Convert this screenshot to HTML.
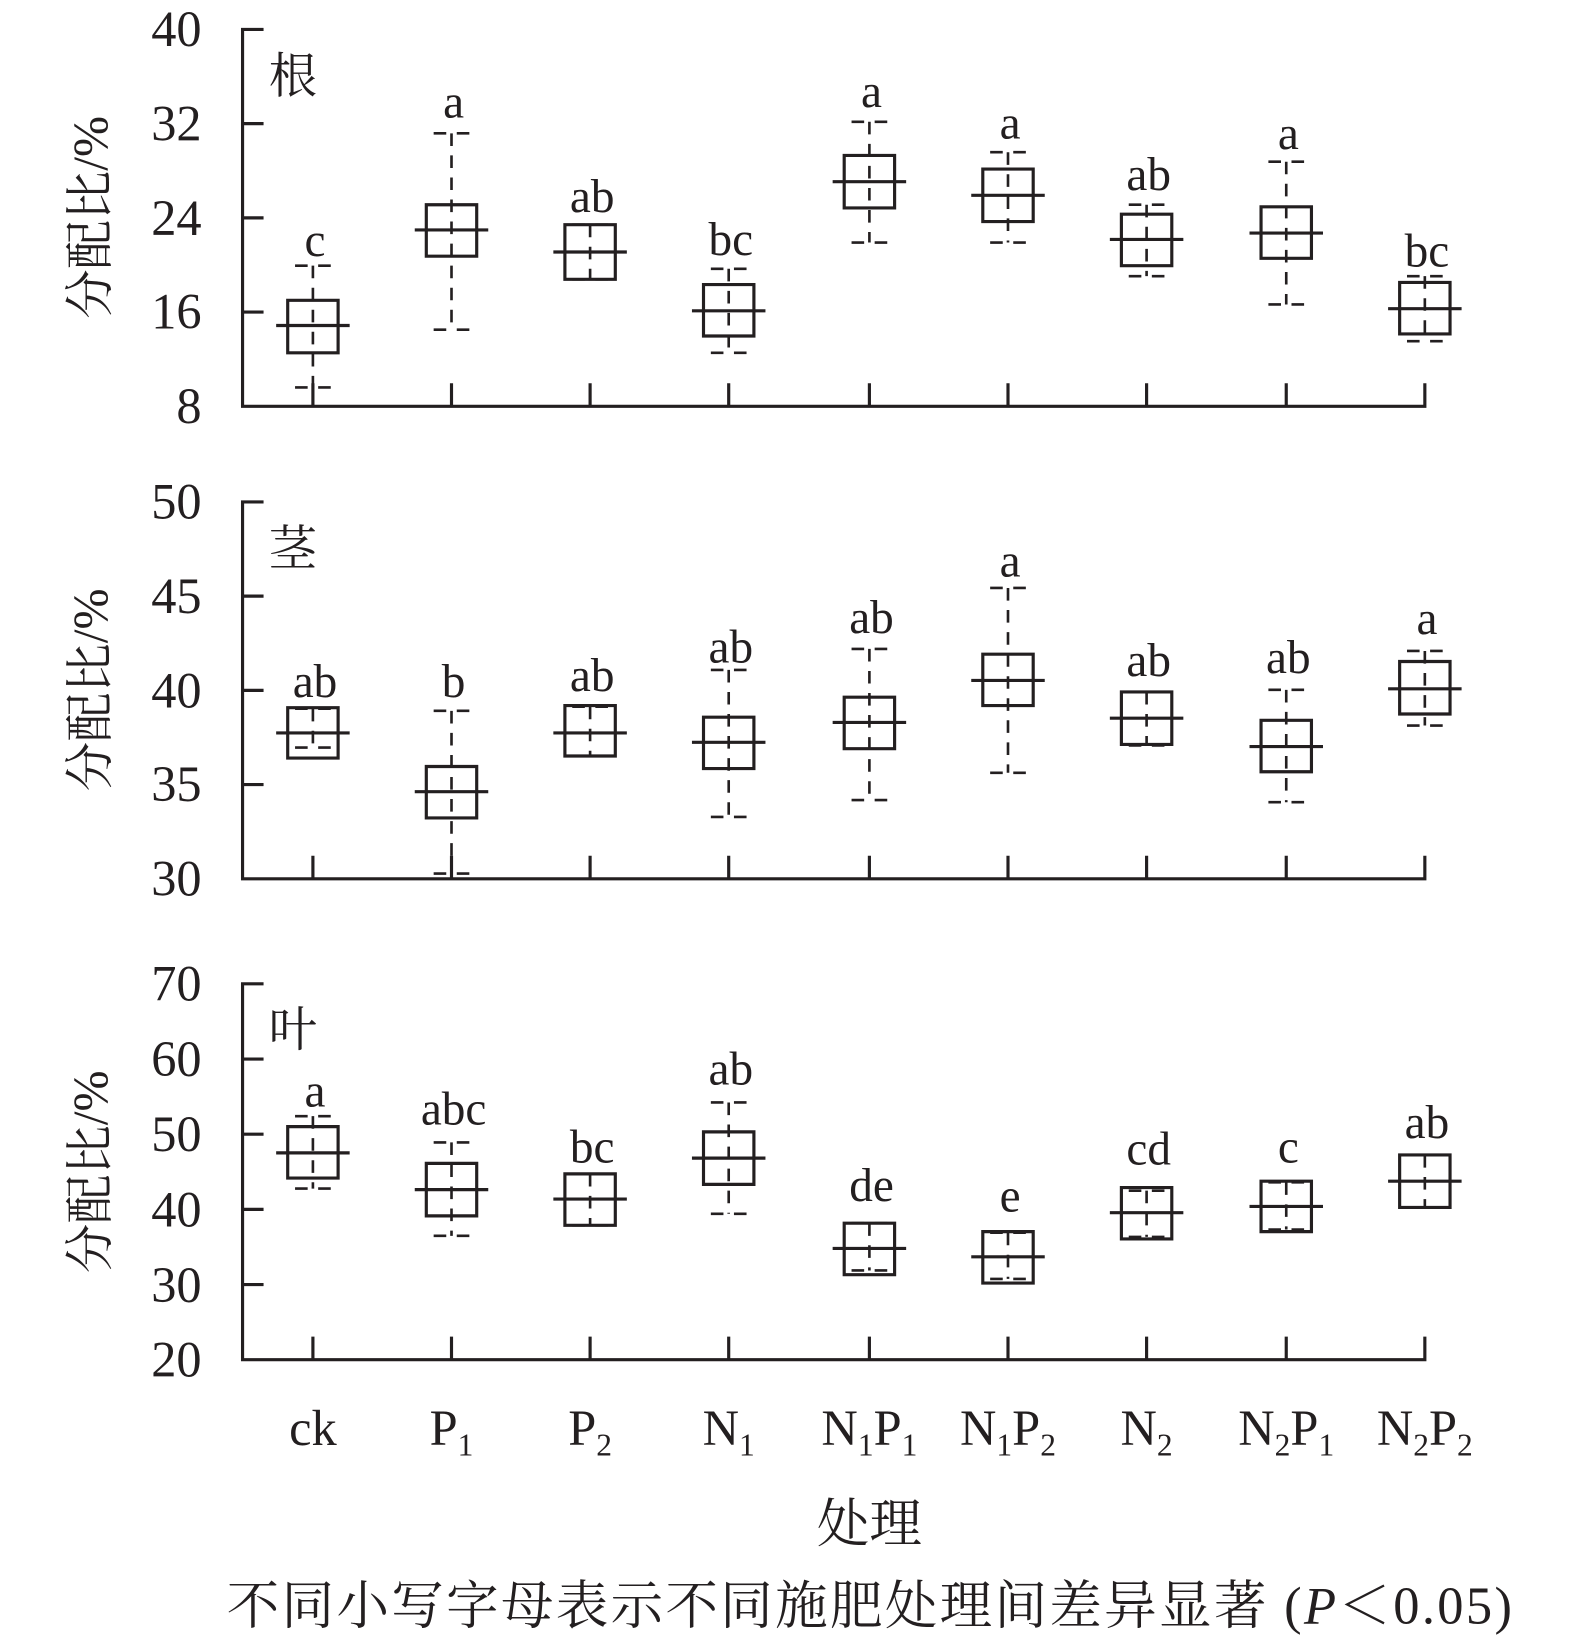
<!DOCTYPE html>
<html><head><meta charset="utf-8"><style>
html,body{margin:0;padding:0;background:#fff;}
svg{display:block;}
text{font-family:"Liberation Serif","Noto Serif CJK SC",serif;fill:#231f20;stroke:none;}
.a{stroke:#231f20;stroke-width:3;fill:none;}
.w{stroke:#231f20;stroke-width:2.5;stroke-dasharray:12,9;fill:none;}
.c{stroke:#231f20;stroke-width:2.5;stroke-dasharray:12,10;fill:none;}
.t{font-size:48px;text-anchor:end;}
.l{font-size:45px;text-anchor:middle;}
.y{font-size:47px;text-anchor:middle;}
.x{font-size:48px;text-anchor:middle;}
.s{font-size:30px;}
</style></head><body>
<svg width="1575" height="1651" viewBox="0 0 1500 1572.4" xmlns="http://www.w3.org/2000/svg">
<!-- Panel 1 -->
<path class="a" d="M251 28H231V387H1357V365"/>
<path class="a" d="M231 117.75h20M231 207.5h20M231 297.25h20M298 387v-22M430 387v-22M562 387v-22M694 387v-22M828 387v-22M960 387v-22M1092 387v-22M1225 387v-22"/>
<text class="t" x="192" y="44">40</text><text class="t" x="192" y="134">32</text><text class="t" x="192" y="224">24</text><text class="t" x="192" y="313">16</text><text class="t" x="192" y="403">8</text>
<text x="256" y="88" font-size="46">根</text>
<text class="y" transform="translate(102,207) rotate(-90)">分配比/%</text>
<!-- Panel 2 -->
<path class="a" d="M251 478H231V837H1357V815"/>
<path class="a" d="M231 567.75h20M231 657.5h20M231 747.25h20M298 837v-22M430 837v-22M562 837v-22M694 837v-22M828 837v-22M960 837v-22M1092 837v-22M1225 837v-22"/>
<text class="t" x="192" y="494">50</text><text class="t" x="192" y="584">45</text><text class="t" x="192" y="674">40</text><text class="t" x="192" y="763">35</text><text class="t" x="192" y="853">30</text>
<text x="256" y="538" font-size="46">茎</text>
<text class="y" transform="translate(102,657) rotate(-90)">分配比/%</text>
<!-- Panel 3 -->
<path class="a" d="M251 937H231V1295H1357V1273"/>
<path class="a" d="M231 1008.6h20M231 1080.2h20M231 1151.8h20M231 1223.4h20M298 1295v-22M430 1295v-22M562 1295v-22M694 1295v-22M828 1295v-22M960 1295v-22M1092 1295v-22M1225 1295v-22"/>
<text class="t" x="192" y="953">70</text><text class="t" x="192" y="1025">60</text><text class="t" x="192" y="1096">50</text><text class="t" x="192" y="1168">40</text><text class="t" x="192" y="1240">30</text><text class="t" x="192" y="1311">20</text>
<text x="256" y="996" font-size="46">叶</text>
<text class="y" transform="translate(102,1116) rotate(-90)">分配比/%</text>

<!-- boxes panel 1 -->
<g>
<path class="w" d="M298 253V369M430 127V314M562 214V266M694 256V336M828 116V231M960 145V231M1092 195V263M1225 154V290M1357 263V325"/>
<path class="c" d="M281 253h34M281 369h34M413 127h34M413 314h34M545 214h34M545 266h34M677 256h34M677 336h34M811 116h34M811 231h34M943 145h34M943 231h34M1075 195h34M1075 263h34M1208 154h34M1208 290h34M1340 263h34M1340 325h34"/>
<path class="a" d="M274 286h48v50h-48zM263 310h70M406 195h48v49h-48zM395 219h70M538 214h48v52h-48zM527 240h70M670 271h48v49h-48zM659 296h70M804 148h48v50h-48zM793 173h70M936 161h48v50h-48zM925 186h70M1068 204h48v49h-48zM1057 228h70M1201 197h48v49h-48zM1190 222h70M1333 269h48v49h-48zM1322 294h70"/>
<text class="l" x="300" y="244">c</text><text class="l" x="432" y="112">a</text><text class="l" x="564" y="202">ab</text><text class="l" x="696" y="243">bc</text><text class="l" x="830" y="102">a</text><text class="l" x="962" y="132">a</text><text class="l" x="1094" y="181">ab</text><text class="l" x="1227" y="142">a</text><text class="l" x="1359" y="254">bc</text>
</g>
<!-- boxes panel 2 -->
<g>
<path class="w" d="M298 675V712M430 677V832M562 673V720M694 638V778M828 618V762M960 560V736M1092 659V710M1225 657V764M1357 620V691"/>
<path class="c" d="M281 675h34M281 712h34M413 677h34M413 832h34M545 673h34M545 720h34M677 638h34M677 778h34M811 618h34M811 762h34M943 560h34M943 736h34M1075 659h34M1075 710h34M1208 657h34M1208 764h34M1340 620h34M1340 691h34"/>
<path class="a" d="M274 674h48v48h-48zM263 698h70M406 730h48v49h-48zM395 754h70M538 672h48v48h-48zM527 698h70M670 683h48v49h-48zM659 707h70M804 664h48v49h-48zM793 688h70M936 623h48v49h-48zM925 648h70M1068 659h48v50h-48zM1057 684h70M1201 686h48v49h-48zM1190 711h70M1333 630h48v50h-48zM1322 656h70"/>
<text class="l" x="300" y="664">ab</text><text class="l" x="432" y="664">b</text><text class="l" x="564" y="658">ab</text><text class="l" x="696" y="631">ab</text><text class="l" x="830" y="603">ab</text><text class="l" x="962" y="549">a</text><text class="l" x="1094" y="644">ab</text><text class="l" x="1227" y="641">ab</text><text class="l" x="1359" y="604">a</text>
</g>
<!-- boxes panel 3 -->
<g>
<path class="w" d="M298 1063V1132M430 1088V1177M562 1118V1167M694 1050V1156M828 1165V1210M960 1174V1218M1092 1134V1178M1225 1126V1171M1357 1100V1150"/>
<path class="c" d="M281 1063h34M281 1132h34M413 1088h34M413 1177h34M545 1118h34M545 1167h34M677 1050h34M677 1156h34M811 1165h34M811 1210h34M943 1174h34M943 1218h34M1075 1134h34M1075 1178h34M1208 1126h34M1208 1171h34M1340 1100h34M1340 1150h34"/>
<path class="a" d="M274 1073h48v49h-48zM263 1098h70M406 1108h48v50h-48zM395 1133h70M538 1118h48v49h-48zM527 1142h70M670 1078h48v50h-48zM659 1103h70M804 1165h48v49h-48zM793 1189h70M936 1173h48v49h-48zM925 1197h70M1068 1131h48v49h-48zM1057 1155h70M1201 1125h48v48h-48zM1190 1149h70M1333 1100h48v50h-48zM1322 1125h70"/>
<text class="l" x="300" y="1054">a</text><text class="l" x="432" y="1071">abc</text><text class="l" x="564" y="1107">bc</text><text class="l" x="696" y="1033">ab</text><text class="l" x="830" y="1144">de</text><text class="l" x="962" y="1154">e</text><text class="l" x="1094" y="1109">cd</text><text class="l" x="1227" y="1107">c</text><text class="l" x="1359" y="1084">ab</text>
</g>
<!-- x labels -->
<text class="x" x="298" y="1376">ck</text>
<text class="x" x="430" y="1376">P<tspan class="s" dy="10">1</tspan></text>
<text class="x" x="562" y="1376">P<tspan class="s" dy="10">2</tspan></text>
<text class="x" x="694" y="1376">N<tspan class="s" dy="10">1</tspan></text>
<text class="x" x="828" y="1376">N<tspan class="s" dy="10">1</tspan><tspan dy="-10">P</tspan><tspan class="s" dy="10">1</tspan></text>
<text class="x" x="960" y="1376">N<tspan class="s" dy="10">1</tspan><tspan dy="-10">P</tspan><tspan class="s" dy="10">2</tspan></text>
<text class="x" x="1092" y="1376">N<tspan class="s" dy="10">2</tspan></text>
<text class="x" x="1225" y="1376">N<tspan class="s" dy="10">2</tspan><tspan dy="-10">P</tspan><tspan class="s" dy="10">1</tspan></text>
<text class="x" x="1357" y="1376">N<tspan class="s" dy="10">2</tspan><tspan dy="-10">P</tspan><tspan class="s" dy="10">2</tspan></text>
<text x="828" y="1468" font-size="50" text-anchor="middle">处理</text>
<text x="216" y="1546" font-size="50" textLength="1224" lengthAdjust="spacing">不同小写字母表示不同施肥处理间差异显著 (<tspan font-style="italic">P</tspan>＜0.05)</text>
</svg>
</body></html>
